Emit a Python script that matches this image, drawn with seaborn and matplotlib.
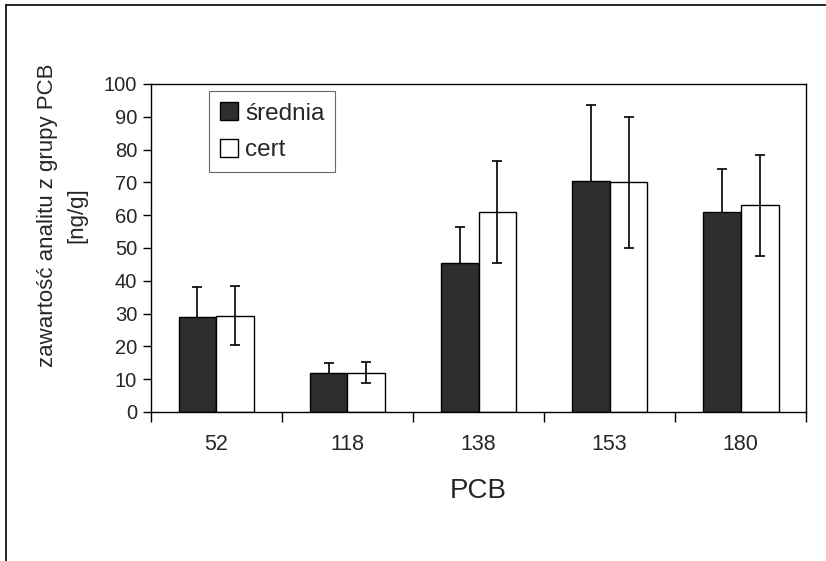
import pandas as pd
import matplotlib.pyplot as plt
import seaborn as sns
from matplotlib.lines import Line2D

pcb = ["52", "118", "138", "153", "180"]
srednia = [29.0, 12.0, 45.5, 70.5, 61.0]
cert = [29.3, 12.0, 61.0, 70.0, 63.0]
err_srednia = [9.0, 3.0, 11.0, 23.0, 13.0]
err_cert = [9.0, 3.2, 15.5, 20.0, 15.5]
series = ["średnia", "cert"]

df = pd.DataFrame({
    "PCB": pcb * 2,
    "seria": [series[0]] * len(pcb) + [series[1]] * len(pcb),
    "wartosc": srednia + cert,
})

sns.set_style("ticks")
plt.rcParams["font.family"] = ["Liberation Sans", "DejaVu Sans"]

fig = plt.figure(figsize=(8.26, 5.61), dpi=100)
ax = fig.add_axes([0.1828, 0.2656, 0.7930, 0.5847])

sns.barplot(data=df, x="PCB", y="wartosc", hue="seria", order=pcb,
            hue_order=series, palette={"średnia": "#2e2e2e", "cert": "white"},
            edgecolor="black", linewidth=1, width=0.58, errorbar=None,
            saturation=1, ax=ax)

# error bars, srednia drawn behind its bar so only the upper half shows
for cont, errs, z in zip(ax.containers, [err_srednia, err_cert], [1, 3]):
    xs = [b.get_x() + b.get_width() / 2 for b in cont]
    hs = [b.get_height() for b in cont]
    ax.errorbar(xs, hs, yerr=errs, fmt="none", ecolor="black",
                elinewidth=1.2, capsize=3.4, capthick=1.2, zorder=z)
for b in ax.patches:
    b.set_zorder(2)

ax.set_ylim(0, 100)
ax.set_xlim(-0.5, 4.5)
ax.set_yticks(range(0, 101, 10))
ax.set_yticklabels([str(v) for v in range(0, 101, 10)], fontsize=14.5)
ax.set_xticks(range(len(pcb)))
ax.set_xticklabels(pcb, fontsize=15.5)
ax.tick_params(axis="y", length=6, width=1, color="black",
               direction="out", pad=4)
ax.tick_params(axis="x", length=0, pad=16)
# Excel-style ticks between categories
ax.set_xticks([i + 0.5 for i in range(-1, 5)], minor=True)
ax.tick_params(axis="x", which="minor", length=7, width=1, color="black",
               direction="out")

for s in ax.spines.values():
    s.set_visible(True)
    s.set_color("black")
    s.set_linewidth(1)

ax.set_xlabel("PCB", fontsize=20)
ax.xaxis.set_label_coords(0.5, -0.2)
ax.set_ylabel("zawartość analitu z grupy PCB\n[ng/g]", fontsize=16,
              linespacing=1.5)
ax.yaxis.set_label_coords(-0.097, 0.60)

leg = ax.legend(loc="upper left", bbox_to_anchor=(0.088, 0.978), fontsize=17.5,
                frameon=True, fancybox=False, shadow=False, edgecolor="#444444",
                handlelength=0.75, handleheight=0.75, handletextpad=0.3,
                labelspacing=0.6, borderpad=0.45, borderaxespad=0)
leg.get_frame().set_linewidth(0.8)
leg.set_title(None)

# outer frame of the scanned chart
fig.add_artist(Line2D([6 / 826, 6 / 826], [0, 1 - 5 / 561], color="black",
                      lw=1.2, transform=fig.transFigure))
fig.add_artist(Line2D([6 / 826, 1], [1 - 5 / 561, 1 - 5 / 561], color="black",
                      lw=1.2, transform=fig.transFigure))

fig.savefig("out.png", dpi=100, facecolor="white")
